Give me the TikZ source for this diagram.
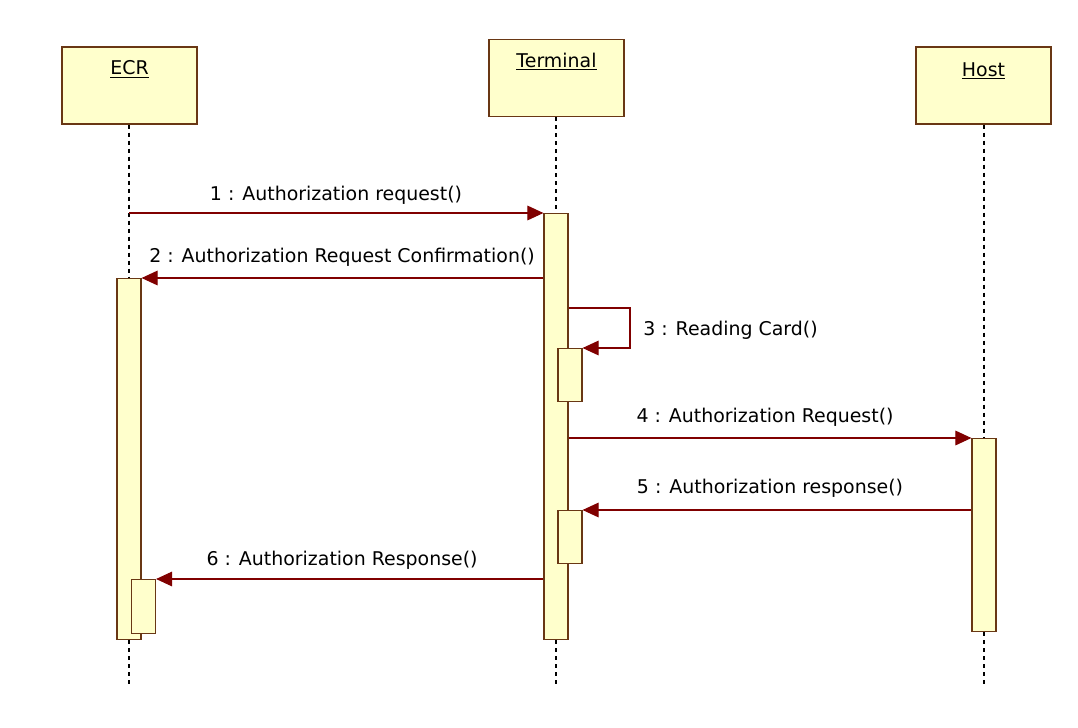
\documentclass[tikz,border=0pt]{standalone}
\usepackage{fontspec}
\setmainfont{DejaVu Sans}
\usetikzlibrary{arrows.meta,positioning}
\definecolor{boxfill}{RGB}{255,255,204}
\definecolor{boxline}{RGB}{105,55,20}
\definecolor{msgline}{RGB}{128,0,0}
\tikzset{
	objbox/.style={draw=boxline,fill=boxfill,line width=0.9pt,minimum width=101.25pt,minimum height=57.75pt,inner sep=0pt},
	actbar/.style={draw=boxline,fill=boxfill,line width=0.9pt,minimum width=18pt,inner sep=0pt,anchor=north},
	lifeline/.style={line width=0.9pt,dash pattern=on 3pt off 3pt},
	msg/.style={draw=msgline,line width=0.8pt,-{Triangle[length=12pt,width=11pt]}},
	msgtext/.style={font=\fontsize{14.2}{16}\selectfont,inner sep=0.75pt}
}
\begin{document}
\begin{tikzpicture}[x=0.75pt,y=0.75pt,yscale=-1,xscale=1]
	\useasboundingbox (0,0) rectangle (1078,728);
	
	%Shape: Rectangle [id:ecr] 
	\node [objbox] (ecr) at (129.5,85.5) {};
	%Shape: Rectangle [id:terminal] 
	\node [objbox] (terminal) at (556.5,78) {};
	%Shape: Rectangle [id:host] 
	\node [objbox] (host) at (983.5,85.5) {};
	% Text Node
	\node [msgtext,below=9.75pt of ecr.north] (ecrname) {\underline{ECR}};
	% Text Node
	\node [msgtext,below=9.75pt of terminal.north] (terminalname) {\underline{Terminal}};
	% Text Node
	\node [msgtext,below=11.25pt of host.north] (hostname) {\underline{Host}};
	
	%Shape: Activation [id:tact] 
	\node [actbar,minimum height=319.5pt] (tact) at (556,213) {};
	%Shape: Activation [id:eact] 
	\node [actbar,minimum height=270.75pt] (eact) at (129,278) {};
	%Shape: Activation [id:hact] 
	\node [actbar,minimum height=144.75pt] (hact) at (984,438) {};
	%Shape: Activation [id:tread] 
	\node [actbar,minimum height=39.75pt] (tread) at (570,348) {};
	%Shape: Activation [id:tresp] 
	\node [actbar,minimum height=39.75pt] (tresp) at (570,510) {};
	%Shape: Activation [id:eresp] 
	\node [actbar,minimum height=40.5pt] (eresp) at (143.5,579) {};
	
	\coordinate (ecrend) at (129,688);
	\coordinate (terminalend) at (556,688);
	\coordinate (hostend) at (984,688);
	\coordinate (readturn) at (630,308);
	
	%Straight Lines [id:lifelines] 
	\draw [lifeline] (ecr.south -| eact.north) -- (eact.north);
	\draw [lifeline] (eact.south) -- (ecrend);
	\draw [lifeline] (terminal.south -| tact.north) -- (tact.north);
	\draw [lifeline] (tact.south) -- (terminalend);
	\draw [lifeline] (host.south -| hact.north) -- (hact.north);
	\draw [lifeline] (hact.south) -- (hostend);
	
	%Straight Lines [id:msg1] 
	\draw [msg] (eact.north |- tact.north) -- (tact.north west);
	%Straight Lines [id:msg2] 
	\draw [msg] (tact.west |- eact.north) -- (eact.north east);
	%Straight Lines [id:msg3] 
	\draw [msg] (tact.east |- readturn) -- (readturn) |- (tread.north east);
	%Straight Lines [id:msg4] 
	\draw [msg] (tact.east |- hact.north) -- (hact.north west);
	%Straight Lines [id:msg5] 
	\draw [msg] (hact.west |- tresp.north) -- (tresp.north east);
	%Straight Lines [id:msg6] 
	\draw [msg] (tact.west |- eresp.north) -- (eresp.north east);
	
	% Text Node
	\node [msgtext] (lbl1) at (336,195) {1 : Authorization request()};
	% Text Node
	\node [msgtext] (lbl2) at (342,257) {2 : Authorization Request Confirmation()};
	% Text Node
	\node [msgtext,anchor=west] (lbl3) at (642,330) {3 : Reading Card()};
	% Text Node
	\node [msgtext] (lbl4) at (765,417) {4 : Authorization Request()};
	% Text Node
	\node [msgtext] (lbl5) at (770,488) {5 : Authorization response()};
	% Text Node
	\node [msgtext] (lbl6) at (342,560) {6 : Authorization Response()};
	
\end{tikzpicture}
\end{document}
